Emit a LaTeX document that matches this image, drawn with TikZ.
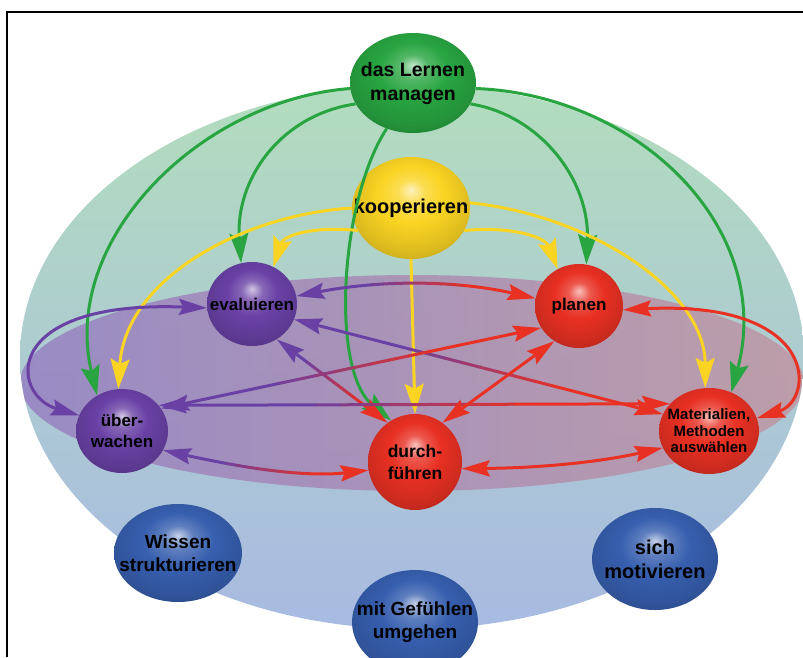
\documentclass[tikz,border=0pt]{standalone}
\usepackage{fontspec}
\setmainfont{Liberation Sans}
\usetikzlibrary{shapes.geometric,arrows.meta}

\definecolor{lgreen}{RGB}{40,165,65}
\definecolor{lyellow}{RGB}{250,212,35}
\definecolor{lpurple}{RGB}{105,65,165}
\definecolor{lred}{RGB}{232,48,35}
\definecolor{lblue}{RGB}{55,95,175}

% soft ball shading, highlight on top
\makeatletter
\pgfdeclareradialshading[tikz@ball]{glow}{\pgfqpoint{0bp}{9bp}}{%
  color(0bp)=(tikz@ball!30!white);
  color(6bp)=(tikz@ball!80!white);
  color(14bp)=(tikz@ball);
  color(26bp)=(tikz@ball!88!black);
  color(36bp)=(tikz@ball!70!black);
  color(50bp)=(tikz@ball!55!black)}
\makeatother

% purple -> red link, colour changes between x=#3 and x=#4
\newcommand{\prlink}[4]{%
  \foreach \k in {0,...,9}{%
    \pgfmathsetmacro{\xl}{ifthenelse(\k==0,-10,#3+(#4-#3)*\k/10)}%
    \pgfmathsetmacro{\xr}{ifthenelse(\k==9,820,#3+(#4-#3)*(\k+1)/10+0.6)}%
    \pgfmathtruncatemacro{\pc}{\k*100/9}%
    \begin{scope}
      \clip (\xl,-10) rectangle (\xr,670);
      \draw[link, draw=lred!\pc!lpurple, #1] #2;
    \end{scope}}}

\begin{document}
\begin{tikzpicture}[x=1pt, y=-1pt, font=\bfseries,
  bubble/.style={ellipse, inner xsep=-18pt, inner ysep=0pt, align=center, ball color=#1, shading=glow},
  link/.style={line width=3pt},
  glink/.style={link, draw=lgreen, -{Stealth[length=30pt,width=19pt,inset=5pt]}},
  ylink/.style={link, draw=lyellow, -{Stealth[length=30pt,width=19pt,inset=5pt]}},
  pr/.style={{Stealth[length=28pt,width=16pt,inset=4pt,color=lpurple]}-{Stealth[length=28pt,width=16pt,inset=4pt,color=lred]}},
  both/.style={{Stealth[length=28pt,width=16pt,inset=4pt]}-{Stealth[length=28pt,width=16pt,inset=4pt]}}]

  \useasboundingbox (0,0) rectangle (803,657);
  \clip (0,0) rectangle (803,657);
  \fill[white] (0,0) rectangle (803,657);

  % background
  \shade[top color={rgb,255:red,178;green,221;blue,190}, middle color={rgb,255:red,162;green,204;blue,200},
    bottom color={rgb,255:red,168;green,186;blue,226}] (412,357) ellipse [x radius=392, y radius=272];
  \begin{scope}
    \clip (412,357) ellipse [x radius=392, y radius=272];
    \shade[left color={rgb,255:red,150;green,128;blue,195}, right color={rgb,255:red,192;green,150;blue,162},
      opacity=0.85] (412,383) ellipse [x radius=392, y radius=108];
  \end{scope}

  % nodes
  \node[bubble=lgreen, minimum width=126, minimum height=100, font=\bfseries\fontsize{19.5}{24}\selectfont] (lm) at (413,83) {das Lernen\\managen};
  \node[bubble=lyellow, minimum width=118, minimum height=102, font=\bfseries\fontsize{20}{24}\selectfont] (ko) at (411,208) {kooperieren};
  \node[bubble=lpurple, minimum width=90, minimum height=84, font=\bfseries\fontsize{17}{20}\selectfont] (ev) at (252,304) {evaluieren};
  \node[bubble=lred, minimum width=88, minimum height=84, font=\bfseries\fontsize{17}{20}\selectfont] (pl) at (579,306) {planen};
  \node[bubble=lpurple, minimum width=92, minimum height=84, font=\bfseries\fontsize{17}{21}\selectfont] (ub) at (122,431) {über-\\wachen};
  \node[bubble=lred, minimum width=94, minimum height=96, font=\bfseries\fontsize{17.5}{22}\selectfont] (du) at (415,462) {durch-\\führen};
  \node[bubble=lred, minimum width=100, minimum height=86, font=\bfseries\fontsize{15}{16.5}\selectfont] (ma) at (709,431) {Materialien,\\Methoden\\auswählen};
  \node[bubble=lblue, minimum width=128, minimum height=98, font=\bfseries\fontsize{19}{23}\selectfont] (ws) at (178,553) {Wissen\\strukturieren};
  \node[bubble=lblue, minimum width=126, minimum height=104, font=\bfseries\fontsize{19}{23}\selectfont] (mg) at (415,622) {mit Gefühlen\\umgehen};
  \node[bubble=lblue, minimum width=126, minimum height=102, font=\bfseries\fontsize{20}{24}\selectfont] (sm) at (655,559) {sich\\motivieren};

  % das Lernen managen
  \draw[glink] (lm.185) .. controls (200,100) and (60,240) .. (ub.125);
  \draw[glink] (lm.200) .. controls (280,115) and (235,180) .. (ev.105);
  \draw[glink] (lm.240) .. controls (340,200) and (330,370) .. (du.120);
  \draw[glink] (lm.-20) .. controls (540,115) and (590,180) .. (pl.80);
  \draw[glink] (lm.-5) .. controls (640,95) and (775,230) .. (ma.60);

  % kooperieren
  \draw[ylink] (ko.180) .. controls (240,215) and (125,280) .. (ub.95);
  \draw[ylink] (ko.203) .. controls (318,226) and (284,234) .. (ev.60);
  \draw[ylink] (ko.south) -- (du.north);
  \draw[ylink] (ko.-23) .. controls (508,226) and (545,236) .. (pl.120);
  \draw[ylink] (ko.5) .. controls (590,215) and (705,290) .. (ma.95);

  % purple / red links
  \prlink{pr}{(ev.10) .. controls (380,280) and (455,280) .. (pl.170)}{360}{475}
  \prlink{pr}{(ev.-55) -- (du.125)}{300}{365}
  \prlink{pr}{(ev.-20) -- (ma.160)}{390}{570}
  \prlink{pr}{(ub.30) -- (pl.-150)}{260}{445}
  \prlink{pr}{(ub.35) -- (ma.145)}{290}{540}
  \prlink{pr}{(ub.-25) .. controls (230,465) and (300,478) .. (du.190)}{215}{320}
  \draw[link, draw=lred, both] (pl.-125) -- (du.55);
  \draw[link, draw=lred, both] (du.-8) .. controls (540,468) and (600,462) .. (ma.200);
  \draw[link, draw=lred, both] (pl.-5) .. controls (820,300) and (815,400) .. (ma.15);
  \draw[link, draw=lpurple, both] (ev.185) .. controls (0,300) and (10,395) .. (ub.160);

  % frame
  \draw[line width=2pt] (7,657) -- (7,12) -- (803,12);
\end{tikzpicture}
\end{document}
